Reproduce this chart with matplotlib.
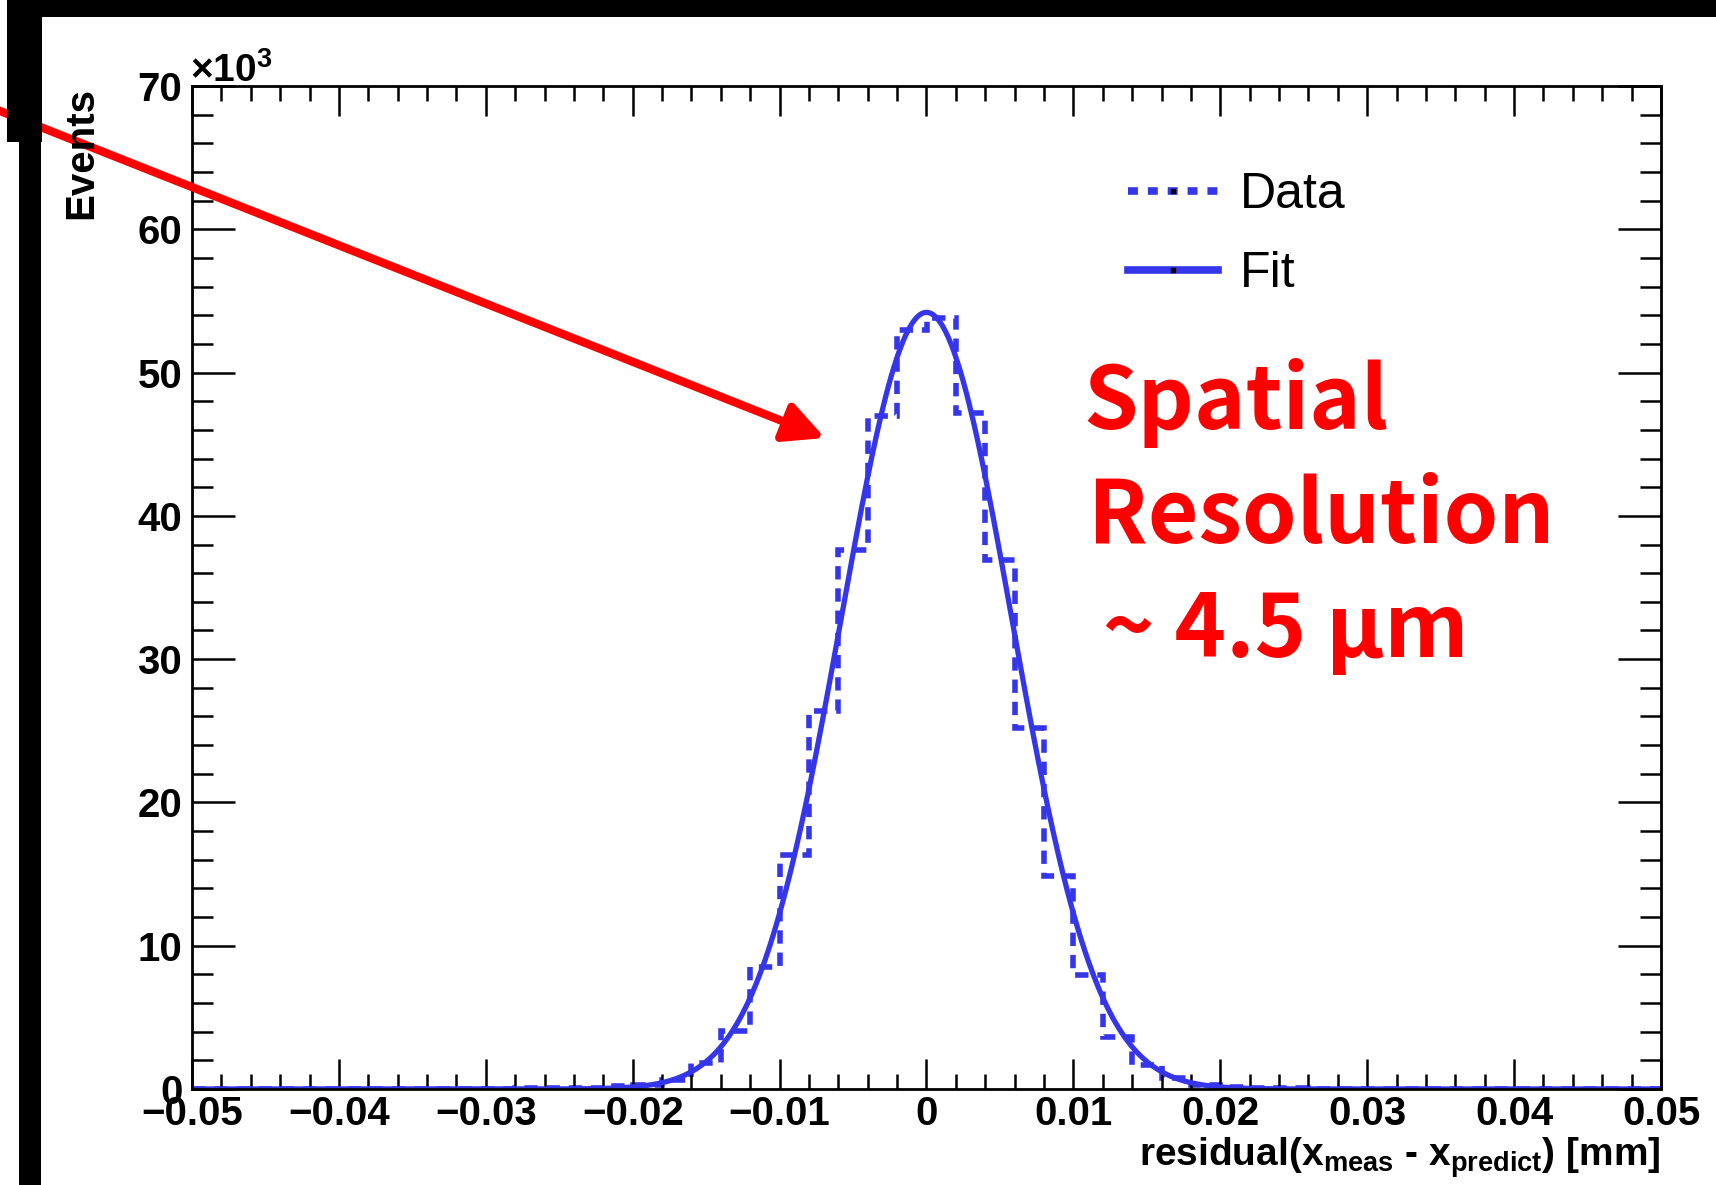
import numpy as np
import matplotlib
matplotlib.use("Agg")
import matplotlib.pyplot as plt
from matplotlib.lines import Line2D
from matplotlib.patches import Rectangle
from matplotlib.ticker import MultipleLocator, FuncFormatter

W, H = 1716, 1185

# histogram: residual (mm), 50 bins from -0.05 to 0.05, counts in units of 10^3
bin_lo, bin_hi, n_bins = -0.05, 0.05, 50
counts_k = [0, 0, 0, 0, 0, 0.01, 0.01, 0.01, 0.02, 0.02,
            0.03, 0.05, 0.07, 0.10, 0.18, 0.30, 0.65, 1.8, 4.05, 8.5,
            16.3, 26.4, 37.6, 47.0, 53.0, 53.8, 47.2, 36.9, 25.2, 14.9,
            7.96, 3.65, 1.67, 0.75, 0.30, 0.15, 0.08, 0.05, 0.03, 0.02,
            0.02, 0.01, 0.01, 0.01, 0.01, 0, 0, 0, 0, 0]

# gaussian fit parameters
fit_amp_k = 54.2
fit_mean = 0.0
fit_sigma = 0.0058

legend_labels = ["Data", "Fit"]
note_lines = ["Spatial", "Resolution", " ~ 4.5 \u00b5m"]

blue = "#3535ea"

plt.rcParams["font.family"] = ["Liberation Sans", "DejaVu Sans"]
plt.rcParams["mathtext.fontset"] = "custom"
plt.rcParams["mathtext.rm"] = "Liberation Sans:bold"
plt.rcParams["mathtext.it"] = "Liberation Sans:bold"
plt.rcParams["mathtext.bf"] = "Liberation Sans:bold"


def fx(x):
    return x / W


def fy(y):
    return 1 - y / H


fig = plt.figure(figsize=(W / 100, H / 100), dpi=100)
ax = fig.add_axes([fx(192), fy(1089), (1661 - 192) / W, (1089 - 86) / H])

edges = np.linspace(bin_lo, bin_hi, n_bins + 1)
ax.stairs(counts_k, edges, color=blue, lw=4, linestyle=(0, (2.4, 1.6)), baseline=None)

xf = np.linspace(bin_lo, bin_hi, 1001)
yf = fit_amp_k * np.exp(-0.5 * ((xf - fit_mean) / fit_sigma) ** 2)
ax.plot(xf, yf, color=blue, lw=3.8)

ax.set_xlim(bin_lo, bin_hi)
ax.set_ylim(0, 70)

ax.xaxis.set_major_locator(MultipleLocator(0.01))
ax.xaxis.set_minor_locator(MultipleLocator(0.002))
ax.yaxis.set_major_locator(MultipleLocator(10))
ax.yaxis.set_minor_locator(MultipleLocator(2))


def xfmt(v, pos):
    if abs(v) < 1e-9:
        return "0"
    return f"{v:.2f}".replace("-", "\u2212")


ax.xaxis.set_major_formatter(FuncFormatter(xfmt))
ax.yaxis.set_major_formatter(FuncFormatter(lambda v, p: f"{v:.0f}"))

for s in ax.spines.values():
    s.set_linewidth(2)
ax.tick_params(axis="both", which="both", direction="in", top=True, right=True,
               width=1.8, color="black")
ax.tick_params(axis="x", which="major", length=21.6, pad=4)
ax.tick_params(axis="x", which="minor", length=10.8)
ax.tick_params(axis="y", which="major", length=31, pad=7)
ax.tick_params(axis="y", which="minor", length=15)
for lab in ax.get_xticklabels() + ax.get_yticklabels():
    lab.set_fontsize(29)
    lab.set_fontweight("bold")

fig.text(fx(190), fy(82), "\u00d710$^{3}$", fontsize=28, fontweight="bold",
         ha="left", va="baseline")
fig.text(fx(81), fy(87), "Events", fontsize=29, fontweight="bold",
         rotation=90, ha="center", va="top")
fig.text(fx(1661), fy(1166),
         r"residual(x$_{\mathrm{meas}}$ - x$_{\mathrm{predict}}$) [mm]",
         fontsize=28, fontweight="bold", ha="right", va="baseline")

h_data = Line2D([], [], color=blue, lw=5.5, linestyle=(0, (1.3, 1.3)),
                marker="s", ms=2.5, mfc="black", mec="black")
h_fit = Line2D([], [], color=blue, lw=5.5, marker="s", ms=2.5,
               mfc="black", mec="black")
ax.legend([h_data, h_fit], legend_labels, loc="upper left",
          bbox_to_anchor=(fx(1128), fy(172)), bbox_transform=fig.transFigure,
          frameon=False, borderpad=0, borderaxespad=0, fontsize=36,
          handlelength=1.8, handletextpad=0.44, labelspacing=0.66, numpoints=1)

for txt, (x0, yb) in zip(note_lines, [(1083, 429), (1088, 543), (1083, 657)]):
    fig.text(fx(x0), fy(yb), txt, color="#ff0000", fontsize=63, fontweight="bold",
             family=["Noto Sans CJK SC", "DejaVu Sans"], ha="left", va="baseline")

# black scan borders
for (x0, y0, x1, y1) in [(7, 0, W, 17), (7, 0, 42, 142), (19, 142, 41, H)]:
    fig.add_artist(Rectangle((fx(x0), fy(y1)), (x1 - x0) / W, (y1 - y0) / H,
                             transform=fig.transFigure, color="black", lw=0, zorder=5))

ax.annotate("", xy=(825, H - 438), xycoords="figure pixels",
            xytext=(-5, H - 109), textcoords="figure pixels",
            arrowprops=dict(arrowstyle="-|>,head_length=1.2,head_width=0.6",
                            lw=6, color="#ff0000", shrinkA=0, shrinkB=0,
                            mutation_scale=20),
            annotation_clip=False, zorder=10)

fig.savefig("out.png", dpi=100)
